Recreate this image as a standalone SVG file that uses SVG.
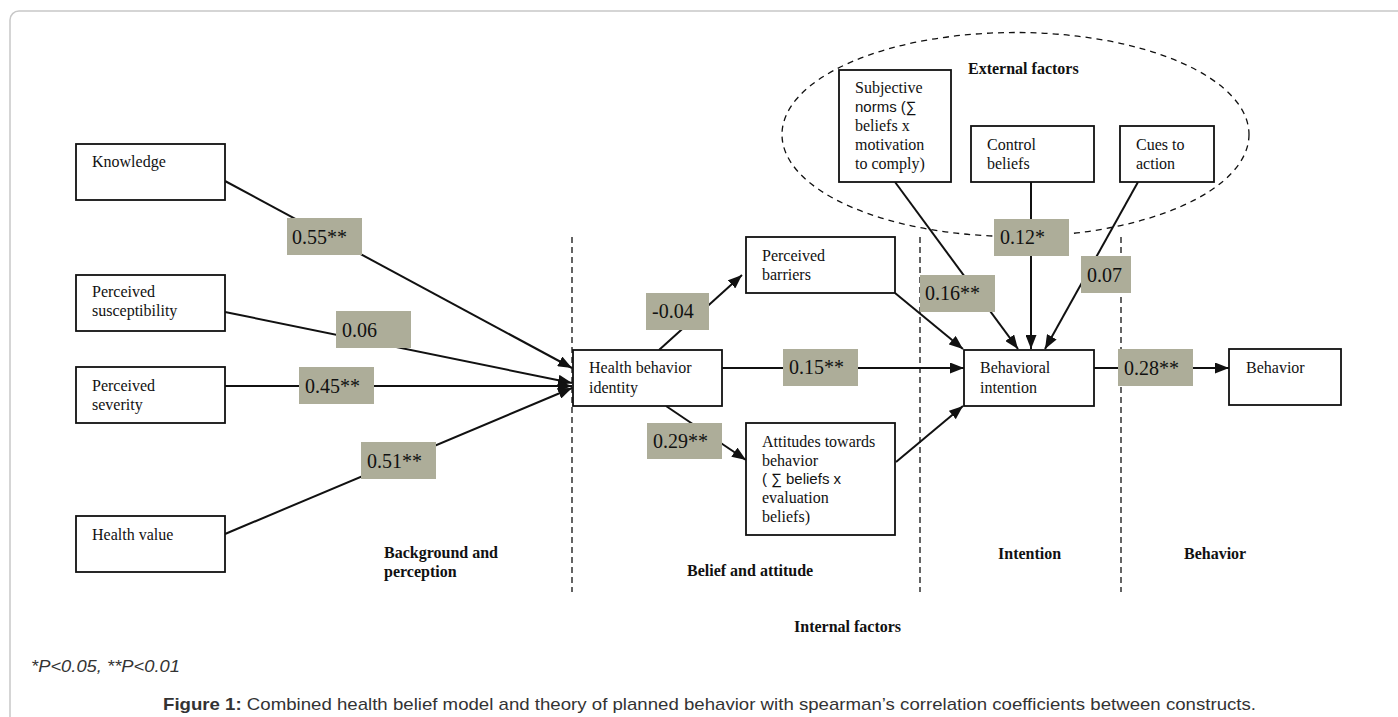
<svg xmlns="http://www.w3.org/2000/svg" width="1398" height="717" viewBox="0 0 1398 717">
<style>
.frame{fill:#fff;stroke:#c8c8c8;stroke-width:1.5}
.box{fill:#fff;stroke:#111;stroke-width:1.8}
.t{font-family:"Liberation Serif","Times New Roman",serif;font-size:16px;fill:#111}
.s{font-family:"Liberation Sans",Arial,sans-serif;font-size:15px;fill:#111}
.b{font-family:"Liberation Serif","Times New Roman",serif;font-size:16px;font-weight:bold;fill:#111}
.lbl{fill:#adad99}
.lt{font-family:"Liberation Serif","Times New Roman",serif;font-size:20px;fill:#111}
.ca{stroke:#111;stroke-width:2;fill:none;marker-end:url(#ah)}
.dv{stroke:#111;stroke-width:1.3;stroke-dasharray:6 4;fill:none}
.el{stroke:#111;stroke-width:1.3;stroke-dasharray:6 5;fill:none}
.cap{font-family:"Liberation Sans",Arial,sans-serif;font-size:17px;fill:#333}
</style>
<defs>
<marker id="ah" viewBox="0 0 14 11" refX="14" refY="5.5" markerWidth="14" markerHeight="11" markerUnits="userSpaceOnUse" orient="auto">
<path d="M0,0 L14,5.5 L0,11 z" fill="#111"/>
</marker>
</defs>
<rect class="frame" x="10" y="11" width="1420" height="730" rx="9"/>

<g id="sections">
<line class="dv" x1="572" y1="237" x2="572" y2="592"/>
<line class="dv" x1="920" y1="237" x2="920" y2="592"/>
<line class="dv" x1="1121" y1="237" x2="1121" y2="592"/>
<ellipse class="el" cx="1015.5" cy="134.5" rx="233.5" ry="102"/>
<text class="b" x="968" y="74">External factors</text>
<text class="b" x="384" y="558">Background and</text>
<text class="b" x="384" y="577">perception</text>
<text class="b" x="687" y="576">Belief and attitude</text>
<text class="b" x="998" y="559">Intention</text>
<text class="b" x="1184" y="559">Behavior</text>
<text class="b" x="794" y="632">Internal factors</text>
</g>

<g id="connectors">
<line class="ca" x1="225" y1="181" x2="572" y2="368"/>
<line class="ca" x1="225" y1="312" x2="572" y2="383"/>
<line class="ca" x1="225" y1="386" x2="572" y2="386"/>
<line class="ca" x1="225" y1="534" x2="572" y2="388"/>
<line class="ca" x1="659" y1="350" x2="742" y2="275"/>
<line class="ca" x1="666" y1="406" x2="746" y2="460"/>
<line class="ca" x1="722" y1="368" x2="964" y2="368"/>
<line class="ca" x1="895" y1="293" x2="963" y2="349"/>
<line class="ca" x1="896" y1="462" x2="963" y2="406"/>
<line class="ca" x1="895" y1="182" x2="1018" y2="349"/>
<line class="ca" x1="1031" y1="182" x2="1031" y2="349"/>
<line class="ca" x1="1138" y1="182" x2="1045" y2="349"/>
<line class="ca" x1="1094" y1="368" x2="1229" y2="368"/>
</g>

<g id="labels">
<g id="l055"><rect class="lbl" x="287" y="218" width="75" height="37"/><text class="lt" x="292" y="244">0.55**</text></g>
<g id="l006"><rect class="lbl" x="336" y="311" width="75" height="37"/><text class="lt" x="342" y="337">0.06</text></g>
<g id="l045"><rect class="lbl" x="299" y="367" width="75" height="37"/><text class="lt" x="305" y="393">0.45**</text></g>
<g id="l051"><rect class="lbl" x="361" y="442" width="75" height="37"/><text class="lt" x="367" y="468">0.51**</text></g>
<g id="lm004"><rect class="lbl" x="646" y="293" width="63" height="37"/><text class="lt" x="652" y="318">-0.04</text></g>
<g id="l015"><rect class="lbl" x="783" y="349" width="75" height="37"/><text class="lt" x="789" y="374">0.15**</text></g>
<g id="l029"><rect class="lbl" x="647" y="423" width="75" height="36"/><text class="lt" x="653" y="448">0.29**</text></g>
<g id="l016"><rect class="lbl" x="920" y="275" width="75" height="37"/><text class="lt" x="925" y="300">0.16**</text></g>
<g id="l012"><rect class="lbl" x="994" y="219" width="75" height="37"/><text class="lt" x="1000" y="244">0.12*</text></g>
<g id="l007"><rect class="lbl" x="1081" y="256" width="50" height="37"/><text class="lt" x="1087" y="282">0.07</text></g>
<g id="l028"><rect class="lbl" x="1118" y="349" width="75" height="37"/><text class="lt" x="1124" y="375">0.28**</text></g>
</g>

<g id="knowledge"><rect class="box" x="76" y="144" width="149" height="56"/><text class="t" x="92" y="167">Knowledge</text></g>
<g id="susceptibility"><rect class="box" x="76" y="275" width="149" height="56"/><text class="t" x="92" y="297">Perceived</text><text class="t" x="92" y="316">susceptibility</text></g>
<g id="severity"><rect class="box" x="76" y="367" width="149" height="56"/><text class="t" x="92" y="391">Perceived</text><text class="t" x="92" y="410">severity</text></g>
<g id="healthvalue"><rect class="box" x="76" y="516" width="149" height="56"/><text class="t" x="92" y="540">Health value</text></g>
<g id="identity"><rect class="box" x="573" y="350" width="149" height="56"/><text class="t" x="589" y="373">Health behavior</text><text class="t" x="589" y="393">identity</text></g>
<g id="barriers"><rect class="box" x="746" y="237" width="149" height="56"/><text class="t" x="762" y="261">Perceived</text><text class="t" x="762" y="280">barriers</text></g>
<g id="attitudes"><rect class="box" x="746" y="423" width="149" height="112"/><text class="t" x="762" y="447">Attitudes towards</text><text class="t" x="762" y="466">behavior</text><text class="s" x="762" y="484">( ∑ beliefs x</text><text class="t" x="762" y="503">evaluation</text><text class="t" x="762" y="522">beliefs)</text></g>
<g id="intention"><rect class="box" x="964" y="350" width="130" height="56"/><text class="t" x="980" y="373">Behavioral</text><text class="t" x="980" y="393">intention</text></g>
<g id="behavior"><rect class="box" x="1229" y="349" width="112" height="56"/><text class="t" x="1246" y="373">Behavior</text></g>
<g id="subjective"><rect class="box" x="839" y="70" width="112" height="112"/><text class="t" x="855" y="93">Subjective</text><text class="s" x="855" y="112">norms (∑</text><text class="t" x="855" y="131">beliefs x</text><text class="t" x="855" y="150">motivation</text><text class="t" x="855" y="169">to comply)</text></g>
<g id="control"><rect class="box" x="971" y="126" width="123" height="56"/><text class="t" x="987" y="150">Control</text><text class="t" x="987" y="169">beliefs</text></g>
<g id="cues"><rect class="box" x="1120" y="126" width="94" height="56"/><text class="t" x="1136" y="150">Cues to</text><text class="t" x="1136" y="169">action</text></g>

<g id="caption">
<text class="cap" x="31" y="672" font-style="italic" font-size="18" textLength="149" lengthAdjust="spacingAndGlyphs">*P&lt;0.05, **P&lt;0.01</text>
<text class="cap" x="163" y="710" textLength="1093" lengthAdjust="spacingAndGlyphs"><tspan font-weight="bold">Figure 1:</tspan> Combined health belief model and theory of planned behavior with spearman’s correlation coefficients between constructs.</text>
</g>
</svg>
